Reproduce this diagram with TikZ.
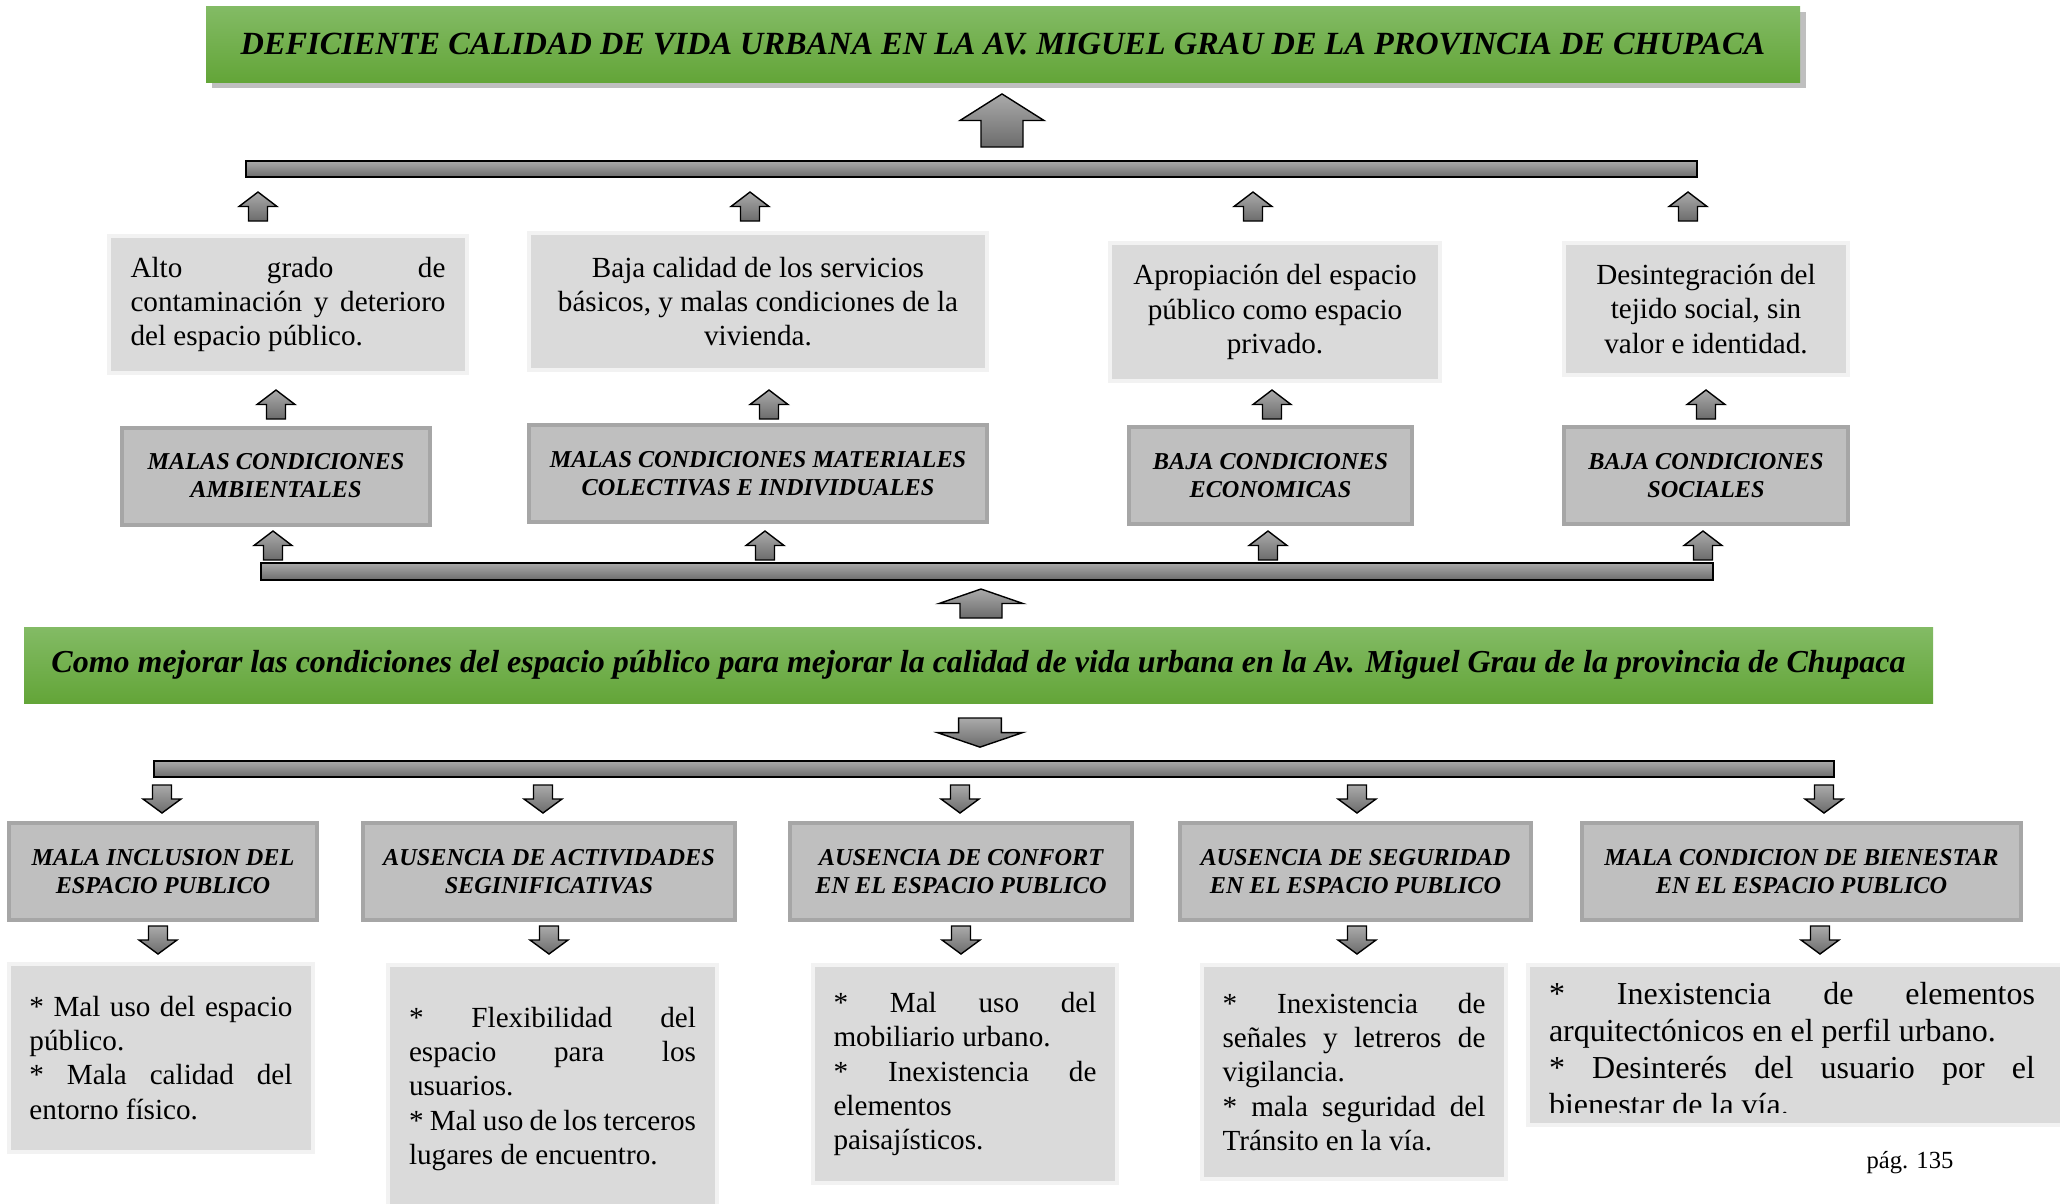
\documentclass[tikz,border=0pt]{standalone}
\usepackage{fontspec}
\setmainfont{Liberation Serif}
\usepackage{tikz}
\usetikzlibrary{shadows}
\definecolor{greentop}{RGB}{131,187,101}
\definecolor{greenbot}{RGB}{99,165,56}
\definecolor{lightfill}{RGB}{218,218,218}
\definecolor{lightedge}{RGB}{242,242,242}
\definecolor{midfill}{RGB}{191,191,191}
\definecolor{midedge}{RGB}{166,166,166}
\definecolor{shadetop}{RGB}{170,170,170}
\definecolor{shadebot}{RGB}{108,108,108}
\hyphenpenalty=10000
\tikzset{
greenbox/.style={top color=greentop, bottom color=greenbot, inner sep=0pt,
  font=\bfseries\itshape\fontsize{9.2}{11}\selectfont},
lightbox/.style={fill=lightfill, draw=lightedge, line width=0.04cm, inner sep=0pt,
  font=\fontsize{8.3}{9.7}\selectfont},
midbox/.style={fill=midfill, draw=midedge, line width=0.04cm, inner sep=0pt, align=center,
  minimum height=0.97cm, font=\bfseries\itshape\fontsize{6.9}{8}\selectfont},
greybar/.style={top color=shadetop, bottom color=shadebot, draw=black, line width=0.7pt},
blockup/.pic={
  \draw[top color=shadetop, bottom color=shadebot, draw=black, line width=0.4pt]
    (-0.095,0) -- (-0.095,0.145) -- (-0.19,0.145) -- (0,0.29) -- (0.19,0.145)
    -- (0.095,0.145) -- (0.095,0) -- cycle;},
blockdown/.pic={
  \draw[top color=shadetop, bottom color=shadebot, draw=black, line width=0.4pt]
    (-0.095,0) -- (-0.095,-0.14) -- (-0.19,-0.14) -- (0,-0.28) -- (0.19,-0.14)
    -- (0.095,-0.14) -- (0.095,0) -- cycle;}
}
\begin{document}
\begin{tikzpicture}

    \useasboundingbox (0,0) rectangle (20.6,-12.03);
    \fill[white] (0,0) rectangle (20.6,-12.03);

    \node[greenbox, drop shadow={shadow xshift=0.06cm, shadow yshift=-0.06cm, opacity=0.25, fill=black},
      minimum width=15.94cm, minimum height=0.76cm] (P) at (10.03,-0.44)
      {DEFICIENTE CALIDAD DE VIDA URBANA EN LA AV. MIGUEL GRAU DE LA PROVINCIA DE CHUPACA};

    \pic[xscale=2.21, yscale=1.83] at (10.02,-1.47) {blockup};
    \draw[greybar] (2.46,-1.61) rectangle (16.97,-1.77);

    \pic at (2.58,-2.21) {blockup};
    \pic at (7.50,-2.21) {blockup};
    \pic at (12.53,-2.21) {blockup};
    \pic at (16.88,-2.21) {blockup};

    \node[lightbox, text width=3.15cm, align=justify, minimum width=3.58cm, minimum height=1.37cm] (E1) at (2.88,-3.045)
      {Alto grado de\linebreak contaminación y deterioro\linebreak del espacio público.};
    \node[lightbox, align=center, minimum width=4.58cm, minimum height=1.37cm] (E2) at (7.58,-3.015)
      {Baja calidad de los servicios\\ básicos, y malas condiciones de la\\ vivienda.};
    \node[lightbox, align=center, minimum width=3.30cm, minimum height=1.38cm] (E3) at (12.75,-3.12)
      {Apropiación del espacio\\ público como espacio\\ privado.};
    \node[lightbox, align=center, minimum width=2.84cm, minimum height=1.32cm] (E4) at (17.06,-3.09)
      {Desintegración del\\ tejido social, sin\\ valor e identidad.};

    \pic at (2.76,-4.19) {blockup};
    \pic at (7.69,-4.19) {blockup};
    \pic at (12.72,-4.19) {blockup};
    \pic at (17.06,-4.19) {blockup};

    \node[midbox, minimum width=3.08cm] (C1) at (2.76,-4.76) {MALAS CONDICIONES\\ AMBIENTALES};
    \node[midbox, minimum width=4.58cm] (C2) at (7.58,-4.735) {MALAS CONDICIONES MATERIALES\\ COLECTIVAS E INDIVIDUALES};
    \node[midbox, minimum width=2.83cm] (C3) at (12.705,-4.755) {BAJA CONDICIONES\\ ECONOMICAS};
    \node[midbox, minimum width=2.84cm] (C4) at (17.06,-4.755) {BAJA CONDICIONES\\ SOCIALES};

    \pic at (2.73,-5.60) {blockup};
    \pic at (7.65,-5.60) {blockup};
    \pic at (12.68,-5.60) {blockup};
    \pic at (17.03,-5.60) {blockup};
    \draw[greybar] (2.61,-5.63) rectangle (17.13,-5.80);

    \pic[xscale=2.21] at (9.81,-6.18) {blockup};

    \node[greenbox, font=\bfseries\itshape\fontsize{9.1}{11}\selectfont, minimum width=19.09cm, minimum height=0.76cm] (M) at (9.785,-6.65)
      {Como mejorar las condiciones del espacio público para mejorar la calidad de vida urbana en la Av. Miguel Grau de la provincia de Chupaca};

    \pic[xscale=2.25, yscale=1.04] at (9.80,-7.18) {blockdown};
    \draw[greybar] (1.54,-7.61) rectangle (18.34,-7.77);

    \pic at (1.62,-7.85) {blockdown};
    \pic at (5.43,-7.85) {blockdown};
    \pic at (9.60,-7.85) {blockdown};
    \pic at (13.57,-7.85) {blockdown};
    \pic at (18.24,-7.85) {blockdown};

    \node[midbox, minimum width=3.08cm] (H1) at (1.63,-8.715) {MALA INCLUSION DEL\\ ESPACIO PUBLICO};
    \node[midbox, minimum width=3.72cm] (H2) at (5.49,-8.715) {AUSENCIA DE ACTIVIDADES\\ SEGINIFICATIVAS};
    \node[midbox, minimum width=3.42cm] (H3) at (9.61,-8.715) {AUSENCIA DE CONFORT\\ EN EL ESPACIO PUBLICO};
    \node[midbox, minimum width=3.51cm] (H4) at (13.555,-8.715) {AUSENCIA DE SEGURIDAD\\ EN EL ESPACIO PUBLICO};
    \node[midbox, minimum width=4.39cm] (H5) at (18.015,-8.715) {MALA CONDICION DE BIENESTAR\\ EN EL ESPACIO PUBLICO};

    \pic at (1.58,-9.26) {blockdown};
    \pic at (5.49,-9.26) {blockdown};
    \pic at (9.61,-9.26) {blockdown};
    \pic at (13.57,-9.26) {blockdown};
    \pic at (18.20,-9.26) {blockdown};

    \node[lightbox, text width=2.63cm, align=justify, minimum width=3.04cm, minimum height=1.88cm] (D1) at (1.61,-10.58)
      {* Mal uso del espacio\linebreak público.\\ {*} Mala calidad del\linebreak entorno físico.};
    \node[lightbox, text width=2.87cm, align=justify, minimum width=3.29cm, minimum height=2.48cm] (D2) at (5.525,-10.89)
      {* Flexibilidad del\linebreak espacio para los\linebreak usuarios.\\ {*} Mal uso de los terceros\linebreak lugares de encuentro.};
    \node[lightbox, text width=2.63cm, align=justify, minimum width=3.04cm, minimum height=2.18cm] (D3) at (9.65,-10.74)
      {* Mal uso del\linebreak mobiliario urbano.\\ {*} Inexistencia de\linebreak elementos\linebreak paisajísticos.};
    \node[lightbox, text width=2.63cm, align=justify, minimum width=3.04cm, minimum height=2.14cm] (D4) at (13.54,-10.72)
      {* Inexistencia de\linebreak señales y letreros de\linebreak vigilancia.\\ {*} mala seguridad del\linebreak Tránsito en la vía.};
    \node[lightbox, minimum width=5.36cm, minimum height=1.60cm] (D5) at (17.96,-10.45) {};
    \begin{scope}
      \clip (15.2,-9.6) rectangle (20.6,-11.12);
      \node[inner sep=0pt, text width=4.86cm, align=justify, anchor=north, font=\fontsize{9.1}{10.5}\selectfont] (D5t) at (17.92,-9.82)
        {* Inexistencia de elementos\linebreak arquitectónicos en el perfil urbano.\\ {*} Desinterés del usuario por el\linebreak bienestar de la vía.};
    \end{scope}

    \node[anchor=base, font=\fontsize{7}{8}\selectfont] (pag) at (19.10,-11.68) {pág. 135};

\end{tikzpicture}
\end{document}
